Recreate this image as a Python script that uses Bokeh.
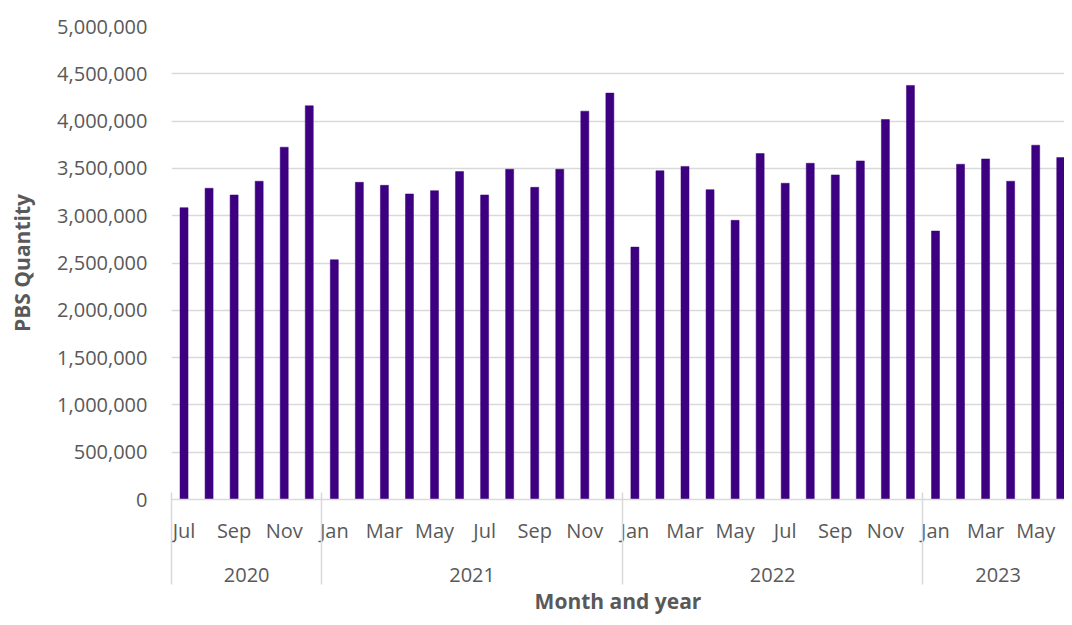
from bokeh.plotting import figure
from bokeh.models import (Range1d, FixedTicker, LinearAxis, NumeralTickFormatter,
                          ColumnDataSource)
from bokeh.embed import file_html
from bokeh.resources import INLINE

# ---- data ----
months = ["Jul", "Aug", "Sep", "Oct", "Nov", "Dec",
          "Jan", "Feb", "Mar", "Apr", "May", "Jun", "Jul", "Aug", "Sep", "Oct", "Nov", "Dec",
          "Jan", "Feb", "Mar", "Apr", "May", "Jun", "Jul", "Aug", "Sep", "Oct", "Nov", "Dec",
          "Jan", "Feb", "Mar", "Apr", "May", "Jun"]
years = ["2020"] * 6 + ["2021"] * 12 + ["2022"] * 12 + ["2023"] * 6
pbs_quantity = [3085000, 3290000, 3219000, 3364000, 3724000, 4162000,
                2534000, 3353000, 3321000, 3230000, 3265000, 3466000,
                3219000, 3491000, 3300000, 3491000, 4105000, 4296000,
                2668000, 3475000, 3521000, 3275000, 2951000, 3657000,
                3343000, 3554000, 3431000, 3579000, 4017000, 4377000,
                2838000, 3544000, 3600000, 3364000, 3745000, 3614000]
y_ticks = [0, 500000, 1000000, 1500000, 2000000, 2500000,
           3000000, 3500000, 4000000, 4500000, 5000000]

# ---- derived positions ----
n = len(months)
idx = list(range(n))
month_ticks = list(range(0, n, 2))
month_overrides = {i: months[i] for i in month_ticks}

year_names = []
year_start = []
year_end = []
for i, y in enumerate(years):
    if not year_names or year_names[-1] != y:
        year_names.append(y)
        year_start.append(i)
        year_end.append(i)
    else:
        year_end[-1] = i
year_centers = [(a + b) / 2 for a, b in zip(year_start, year_end)]
year_overrides = {c: name for c, name in zip(year_centers, year_names)}
boundaries = [s - 0.5 for s in year_start]

TEXT = "#595959"
GRID = "#d9d9d9"
FONT = "Open Sans"

p = figure(width=1064, height=617, output_backend="svg", toolbar_location=None,
           x_range=Range1d(-0.5, 35.15), y_range=Range1d(0, 5000000),
           min_border_left=171, min_border_right=0, min_border_top=26,
           min_border_bottom=0)
p.outline_line_color = None
p.background_fill_color = "white"
p.border_fill_color = "white"

src = ColumnDataSource(dict(x=idx, top=pbs_quantity))
p.vbar(x="x", top="top", width=0.32, bottom=0, source=src,
       fill_color="#3c0080", line_color="#3c0080", line_width=0.5)

# grid
p.xgrid.visible = False
p.ygrid.ticker = FixedTicker(ticks=y_ticks)
p.ygrid.grid_line_color = GRID
p.ygrid.grid_line_width = 1.3

# y axis
ya = p.yaxis[0]
ya.ticker = FixedTicker(ticks=y_ticks)
ya.formatter = NumeralTickFormatter(format="0,0")
ya.axis_line_color = None
ya.major_tick_line_color = None
ya.minor_tick_line_color = None
ya.major_tick_out = 0
ya.minor_tick_out = 0
ya.major_label_standoff = 24
ya.major_label_text_font = FONT
ya.major_label_text_font_size = "20px"
ya.major_label_text_color = TEXT
ya.axis_label = "PBS Quantity"
ya.axis_label_text_font = FONT
ya.axis_label_text_font_size = "21px"
ya.axis_label_text_font_style = "bold"
ya.axis_label_text_color = TEXT
ya.axis_label_standoff = 18

# month axis (closest to the plot)
xa = p.xaxis[0]
xa.ticker = FixedTicker(ticks=month_ticks, minor_ticks=[])
xa.major_label_overrides = month_overrides
xa.axis_line_color = GRID
xa.axis_line_width = 1.3
xa.major_tick_line_color = None
xa.minor_tick_line_color = None
xa.major_tick_out = 0
xa.minor_tick_out = 0
xa.major_label_standoff = 17
xa.major_label_text_font = FONT
xa.major_label_text_font_size = "20px"
xa.major_label_text_color = TEXT

# year axis
yr = LinearAxis(ticker=FixedTicker(ticks=year_centers, minor_ticks=[]),
                major_label_overrides=year_overrides)
yr.axis_line_color = None
yr.major_tick_line_color = None
yr.minor_tick_line_color = None
yr.major_tick_out = 0
yr.minor_tick_out = 0
yr.major_label_standoff = 21
yr.major_label_text_font = FONT
yr.major_label_text_font_size = "20px"
yr.major_label_text_color = TEXT
p.add_layout(yr, "below")

# separator axis: year boundaries drawn as inward minor ticks, plus the title
sep = LinearAxis(ticker=FixedTicker(ticks=[], minor_ticks=boundaries))
sep.axis_line_color = None
sep.major_tick_line_color = None
sep.major_tick_out = 0
sep.major_label_text_font_size = "0px"
sep.minor_tick_line_color = GRID
sep.minor_tick_line_width = 1.5
sep.minor_tick_out = 0
sep.minor_tick_in = 92
sep.axis_label = "Month and year"
sep.axis_label_text_font = FONT
sep.axis_label_text_font_size = "21px"
sep.axis_label_text_font_style = "bold"
sep.axis_label_text_color = TEXT
sep.axis_label_standoff = 2
p.add_layout(sep, "below")

open("out.html", "w").write(file_html(p, INLINE))
